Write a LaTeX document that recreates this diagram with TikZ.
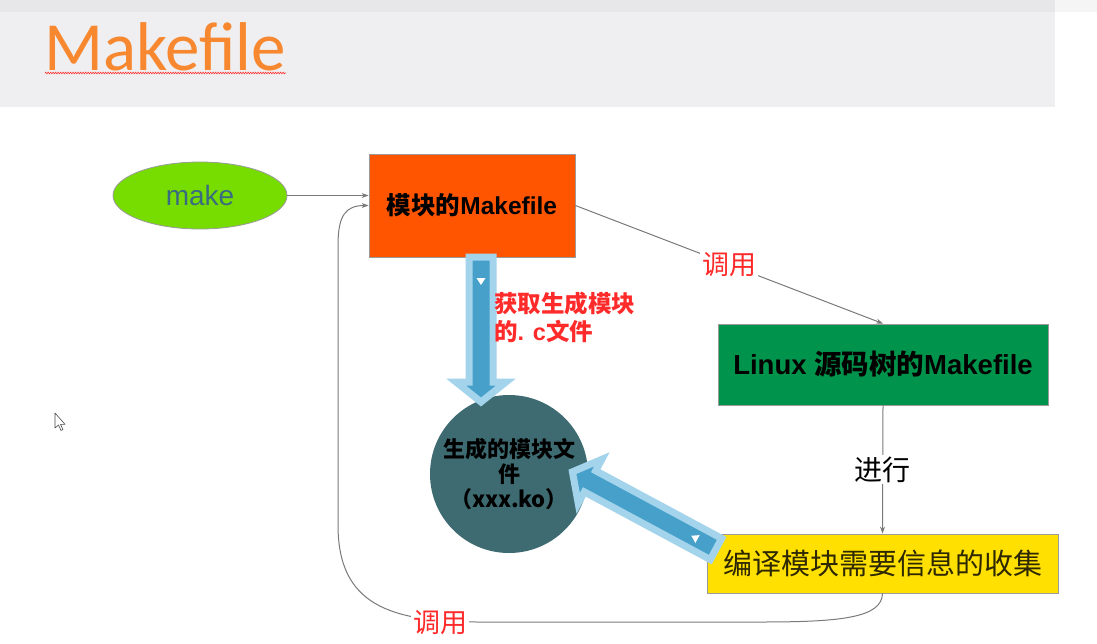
\documentclass[tikz,border=0pt]{standalone}
\usepackage{fontspec}
\setmainfont{Liberation Sans}
\newfontfamily\cjk{Noto Sans CJK SC}
\newfontfamily\titlefont{Carlito}
\usetikzlibrary{arrows.meta,calc,shapes.geometric,decorations.pathmorphing}

\definecolor{bandgrey}{HTML}{EFEEF0}
\definecolor{bandtop}{HTML}{E7E7E9}
\definecolor{titleorange}{HTML}{F7882F}
\definecolor{makegreen}{HTML}{77DD00}
\definecolor{maketext}{HTML}{3A6C80}
\definecolor{modorange}{HTML}{FF5500}
\definecolor{srcgreen}{HTML}{00934B}
\definecolor{infoyellow}{HTML}{FFE000}
\definecolor{infotext}{HTML}{2E2800}
\definecolor{kofill}{HTML}{3E6B72}
\definecolor{callred}{HTML}{FF2B2B}
\definecolor{flowlight}{HTML}{A3D4EC}
\definecolor{flowdark}{HTML}{46A0CA}
\definecolor{linkgrey}{HTML}{7A7A7A}
\definecolor{edgegrey}{HTML}{9A9A9A}

\newcommand\fs[1]{\fontsize{#1}{#1}\selectfont}

\tikzset{
  box/.style={draw=edgegrey, line width=0.8pt, inner sep=0pt},
  link/.style={draw=linkgrey, line width=1pt, -{Stealth[length=7pt,width=5pt]}},
  calllbl/.style={fill=white, inner sep=2pt, text=callred, font=\cjk\fs{27}},
  flow/.style={draw=flowlight, fill=flowdark, line width=7pt, line join=miter},
}

% block arrow pointing along local +x, tail at the local origin
\newcommand\flowarrow[3]{%
  \begin{scope}[shift={#1}, rotate=#2]
    \draw[flow] (0,-12) -- ({#3-20},-12) -- ({#3-20},-25) -- (#3,0)
      -- ({#3-20},25) -- ({#3-20},12) -- (0,12) -- cycle;
    \fill[white] (21,-4.5) -- (28,0) -- (21,4.5) -- cycle;
  \end{scope}}

\begin{document}
\begin{tikzpicture}[x=1pt,y=-1pt]
\useasboundingbox (0,0) rectangle (1097,643);
\fill[white] (0,0) rectangle (1097,643);

% header band
\fill[bandgrey] (0,0) rectangle (1055,107);
\fill[bandtop] (0,0) rectangle (1055,12);
\fill[black!4] (1055,0) rectangle (1097,12);
\node[anchor=base west, inner sep=0pt, font=\titlefont\fs{69}, text=titleorange]
  (title) at (44,70) {Makefile};
\draw[callred, line width=0.6pt, decorate,
      decoration={zigzag, segment length=2.5pt, amplitude=0.8pt}]
  ($(title.base west)+(1,3)$) -- ($(title.base east)+(0,3)$);

% nodes
\node[ellipse, box, fill=makegreen, minimum width=174, minimum height=67,
      font=\fs{28}, text=maketext] (make) at (200,195.5) {make};
\node[box, fill=modorange, minimum width=206, minimum height=103,
      font=\bfseries\fs{24.5}] (modmk) at (472,205.5)
  {{\cjk 模块的}Makefile};
\node[box, fill=srcgreen, minimum width=330, minimum height=81,
      font=\bfseries\fs{27.5}] (linuxmk) at (883,364.5)
  {Linux {\cjk 源码树的}Makefile};
\node[box, fill=infoyellow, minimum width=351, minimum height=59,
      font=\cjk\fs{29}, text=infotext] (collect) at (882.5,563.5)
  {编译模块需要信息的收集};
\node[circle, fill=kofill, minimum size=158, inner sep=0pt, align=center,
      font=\cjk\bfseries\fontsize{22}{25}\selectfont] (ko) at (509,474)
  {生成的模块文\\件\\（xxx.ko）};

% connectors
\draw[link] (make.east) -- (make.east -| modmk.west);
\draw[link] (modmk.east) -- node[calllbl] (callone) {调用} (linuxmk.north);
\draw[link] (linuxmk.south) -- node[fill=white, inner sep=2pt, font=\cjk\fs{28}]
  (goon) {进行} (collect.north);
\draw[link] (collect.south) .. controls (882,618) and (840,622) .. (760,622)
  -- (480,622) .. controls (390,622) and (338,605) .. (338,525)
  -- (338,245) .. controls (338,215) and (346,205.5) .. (modmk.west);
\node[calllbl] (calltwo) at (440,623) {调用};

% block arrows
\flowarrow{(481,257)}{-90}{145}
\flowarrow{(716,549)}{151.75}{163}

\node[anchor=west, align=left, inner sep=0pt, text=callred,
      font=\bfseries\fontsize{23.5}{28}\selectfont] (fetch) at (494,317)
  {{\cjk 获取生成模块}\\{\cjk 的}. c{\cjk 文件}};

% mouse pointer
\coordinate (ptr) at (55,413);
\draw[black!70, fill=white, line width=0.6pt, line join=round]
  (ptr) -- ++(0,15) -- ++(3.5,-3) -- ++(2.5,5.5) -- ++(2,-1) -- ++(-2.5,-5.2)
  -- ++(4.5,0) -- cycle;
\end{tikzpicture}
\end{document}
